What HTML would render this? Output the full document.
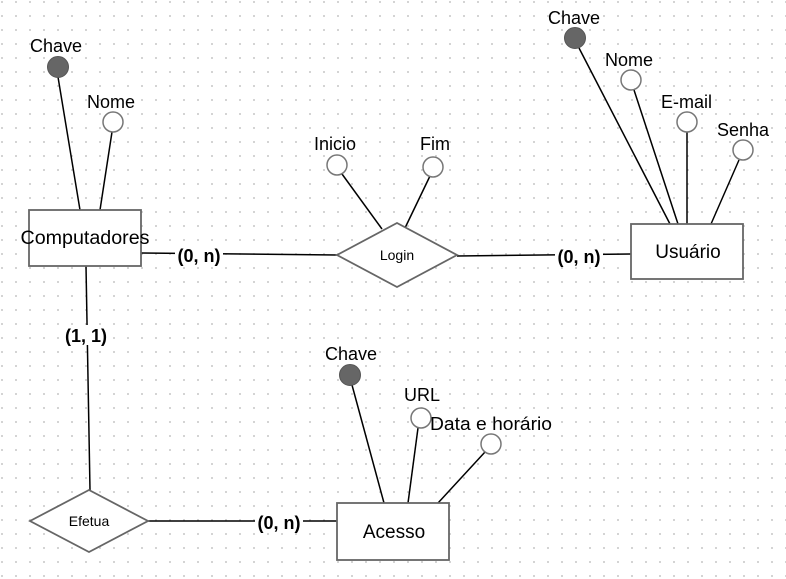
<!DOCTYPE html>
<html><head><meta charset="utf-8"><style>
html,body{margin:0;padding:0;}
body{width:786px;height:579px;overflow:hidden;background-color:#fff;
background-image:radial-gradient(circle,#c8c8c8 0.8px,transparent 1.1px);
background-size:14px 14px;background-position:-5px -5px;}
svg{position:absolute;left:0;top:0;}
text{font-family:"Liberation Sans",sans-serif;fill:#000;}
</style></head><body>
<svg width="786" height="579" viewBox="0 0 786 579">
<g stroke="#000" stroke-width="1.5" fill="none">
<line x1="58" y1="77" x2="80" y2="210"/>
<line x1="112" y1="132" x2="100" y2="210"/>
<line x1="141" y1="253" x2="337" y2="255"/>
<line x1="457" y1="256" x2="631" y2="254"/>
<line x1="342" y1="174" x2="382" y2="229"/>
<line x1="430" y1="176" x2="405" y2="228"/>
<line x1="579" y1="48" x2="670" y2="224"/>
<line x1="634" y1="90" x2="678" y2="224"/>
<line x1="687" y1="132" x2="687" y2="224"/>
<line x1="739" y1="160" x2="711" y2="224"/>
<line x1="86" y1="266" x2="90" y2="490"/>
<line x1="148" y1="521" x2="337" y2="521"/>
<line x1="352" y1="385" x2="384" y2="503"/>
<line x1="418" y1="428" x2="408" y2="503"/>
<line x1="485" y1="452" x2="438" y2="503"/>
</g>
<g stroke="#666" stroke-width="1.8" fill="#fff">
<rect x="29" y="210" width="112" height="56"/>
<rect x="631" y="224" width="112" height="55"/>
<rect x="337" y="503" width="112" height="57"/>
<polygon points="337,255 397,223 457,255 397,287"/>
<polygon points="30,521 89,490 148,521 89,552"/>
</g>
<g stroke="#777" stroke-width="1.5" fill="#fff">
<circle cx="113" cy="122" r="10"/>
<circle cx="337" cy="165" r="10"/>
<circle cx="433" cy="167" r="10"/>
<circle cx="631" cy="80" r="10"/>
<circle cx="687" cy="122" r="10"/>
<circle cx="743" cy="150" r="10"/>
<circle cx="421" cy="418" r="10"/>
<circle cx="491" cy="444" r="10"/>
</g>
<g fill="#666" stroke="#555">
<circle cx="58" cy="67" r="10.5"/>
<circle cx="575" cy="38" r="10.5"/>
<circle cx="350" cy="375" r="10.5"/>
</g>
<g font-size="19">
<text x="85" y="244" text-anchor="middle" textLength="129" lengthAdjust="spacingAndGlyphs">Computadores</text>
<text x="688" y="258" text-anchor="middle">Usuário</text>
<text x="394" y="538" text-anchor="middle">Acesso</text>
</g>
<g font-size="18">
<text x="30" y="52">Chave</text>
<text x="87" y="108">Nome</text>
<text x="314" y="150">Inicio</text>
<text x="420" y="150">Fim</text>
<text x="548" y="24">Chave</text>
<text x="605" y="66">Nome</text>
<text x="661" y="108">E-mail</text>
<text x="717" y="136">Senha</text>
<text x="325" y="360">Chave</text>
<text x="404" y="401">URL</text>
<text x="430" y="430" textLength="122" lengthAdjust="spacingAndGlyphs">Data e horário</text>
</g>
<g font-size="14">
<text x="397" y="260" text-anchor="middle">Login</text>
<text x="89" y="526" text-anchor="middle">Efetua</text>
</g>
<g font-size="18" font-weight="bold">
<rect x="175" y="245" width="48" height="20" fill="#fff"/>
<text x="199" y="262" text-anchor="middle">(0, n)</text>
<rect x="555" y="246" width="48" height="20" fill="#fff"/>
<text x="579" y="263" text-anchor="middle">(0, n)</text>
<rect x="62" y="325" width="48" height="20" fill="#fff"/>
<text x="86" y="342" text-anchor="middle">(1, 1)</text>
<rect x="255" y="513" width="48" height="20" fill="#fff"/>
<text x="279" y="529" text-anchor="middle">(0, n)</text>
</g>
</svg>
</body></html>
